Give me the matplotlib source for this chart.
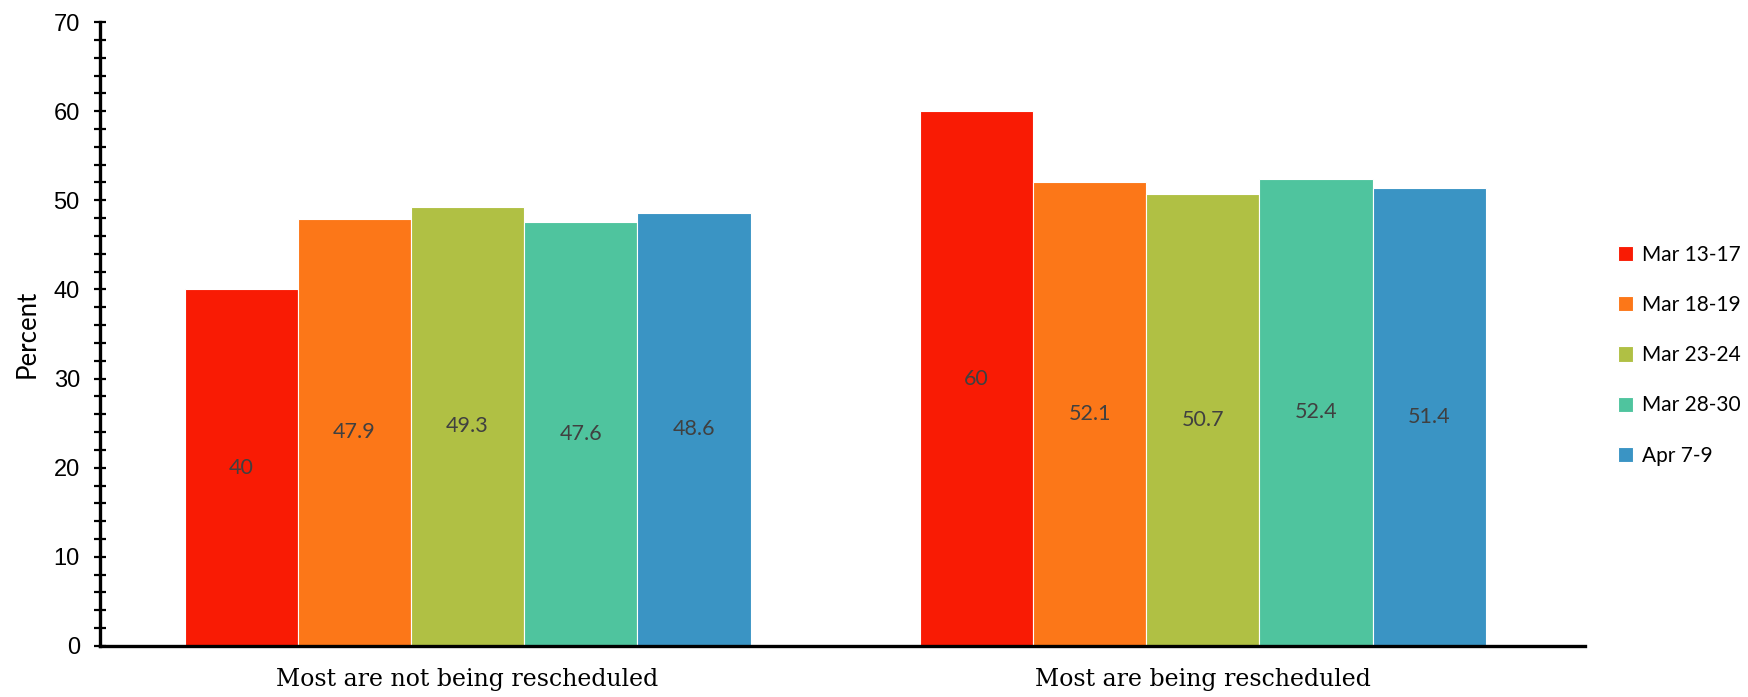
import matplotlib.pyplot as plt
import numpy as np
from matplotlib.ticker import MultipleLocator

# data
groups = ["Most are not being rescheduled", "Most are being rescheduled"]
periods = ["Mar 13-17", "Mar 18-19", "Mar 23-24", "Mar 28-30", "Apr 7-9"]
not_rescheduled = [40, 47.9, 49.3, 47.6, 48.6]
rescheduled = [60, 52.1, 50.7, 52.4, 51.4]
colors = ['#F91B04', '#FC7718', '#B0C044', '#4FC49E', '#3A94C4']


def main():
    fig = plt.figure(figsize=(17.48, 6.97), dpi=100)
    ax = fig.add_axes([0.0572, 0.0732, 0.8496, 0.8952])

    x = np.arange(len(groups))
    width = 0.154
    for i, period in enumerate(periods):
        vals = [not_rescheduled[i], rescheduled[i]]
        pos = x + (i - 2) * width
        bars = ax.bar(pos, vals, width, color=colors[i], label=period,
                      edgecolor='white', linewidth=0.8)
        # value labels in the middle of each bar
        for b, v in zip(bars, vals):
            ax.text(b.get_x() + b.get_width() / 2, v / 2, f"{v:g}",
                    ha='center', va='center', fontsize=15.5,
                    color='#404040', family='Lato')

    ax.set_xlim(-0.5, 1.52)
    ax.set_ylim(0, 70)
    ax.set_xticks(x)
    ax.set_xticklabels(groups, family='DejaVu Serif', fontsize=17)
    ax.tick_params(axis='x', length=0, pad=16)

    ax.yaxis.set_major_locator(MultipleLocator(10))
    ax.yaxis.set_minor_locator(MultipleLocator(2))
    ax.tick_params(axis='y', which='both', direction='inout', length=9,
                   width=1.6, pad=10)
    for lab in ax.get_yticklabels():
        lab.set_family('Liberation Sans')
        lab.set_fontsize(17)
    ax.set_ylabel('Percent', family='Lato', fontsize=18.5, labelpad=10)

    for s in ['top', 'right']:
        ax.spines[s].set_visible(False)
    for s in ['left', 'bottom']:
        ax.spines[s].set_linewidth(2.4)

    ax.legend(loc='center left', bbox_to_anchor=(1.022, 0.466), frameon=False,
              prop={'family': 'Lato', 'size': 15}, handlelength=0.75,
              handleheight=0.75, labelspacing=1.45, handletextpad=0.4,
              borderpad=0, borderaxespad=0)

    fig.savefig('out.png', dpi=100)


if __name__ == "__main__":
    main()
